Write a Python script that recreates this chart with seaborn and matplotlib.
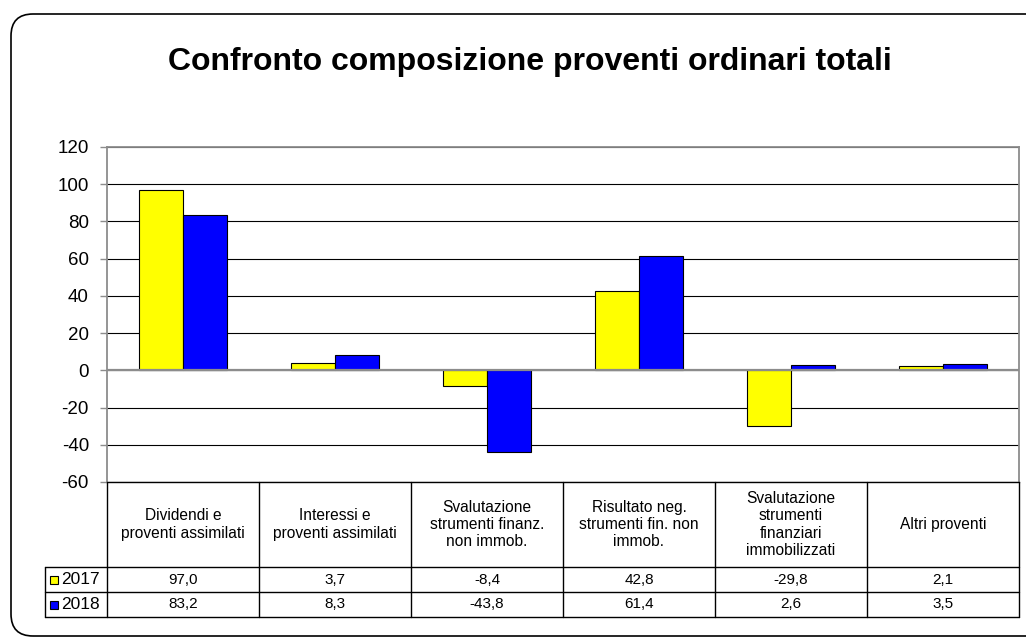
import pandas as pd
import numpy as np
import matplotlib
matplotlib.use("Agg")
import matplotlib.pyplot as plt
import matplotlib.transforms as mtransforms
from matplotlib.patches import FancyBboxPatch
import seaborn as sns

# dati
categorie = [
    "Dividendi e\nproventi assimilati",
    "Interessi e\nproventi assimilati",
    "Svalutazione\nstrumenti finanz.\nnon immob.",
    "Risultato neg.\nstrumenti fin. non\nimmob.",
    "Svalutazione\nstrumenti\nfinanziari\nimmobilizzati",
    "Altri proventi",
]
anni = ["2017", "2018"]
valori_2017 = [97.0, 3.7, -8.4, 42.8, -29.8, 2.1]
valori_2018 = [83.2, 8.3, -43.8, 61.4, 2.6, 3.5]
colori = {"2017": "#FFFF00", "2018": "#0000FF"}
yticks = [-60, -40, -20, 0, 20, 40, 60, 80, 100, 120]

df = pd.DataFrame({
    "categoria": categorie * 2,
    "anno": ["2017"] * len(categorie) + ["2018"] * len(categorie),
    "valore": valori_2017 + valori_2018,
})

sns.set_style("white")
plt.rcParams["font.family"] = ["Liberation Sans", "DejaVu Sans"]
plt.rcParams["text.color"] = "black"
plt.rcParams["ytick.labelcolor"] = "black"
plt.rcParams["axes.unicode_minus"] = False

W, H = 1026, 637
fig = plt.figure(figsize=(W / 100, H / 100), dpi=100)

# cornice arrotondata
cornice = FancyBboxPatch((11, 1), 1040, 622, boxstyle="round,pad=0,rounding_size=22",
                         transform=mtransforms.IdentityTransform(),
                         facecolor="none", edgecolor="black", linewidth=1.2)
fig.patches.append(cornice)

fig.text(0.516, 1 - 62 / H, "Confronto composizione proventi ordinari totali",
         ha="center", va="center", fontsize=23, fontweight="bold", color="black")

ax = fig.add_axes([107 / W, 1 - 482 / H, 912 / W, 335 / H])
sns.barplot(data=df, x="categoria", y="valore", hue="anno", order=categorie,
            hue_order=anni, palette=colori, width=0.58, edgecolor="black",
            linewidth=0.8, saturation=1, legend=False, ax=ax)

ax.set_xlim(-0.5, len(categorie) - 0.5)
ax.set_ylim(-60, 120)
ax.set_yticks(yticks)
ax.set_xticks([])
ax.set_xlabel("")
ax.set_ylabel("")
ax.set_axisbelow(True)
ax.grid(axis="y", color="black", linewidth=0.8)
ax.axhline(0, color="#8c8c8c", linewidth=1.6, zorder=5)
ax.tick_params(axis="y", which="both", left=True, direction="out", length=5,
               width=1, color="#8c8c8c", pad=8, labelsize=13.5, labelcolor="black")
for lato in ["top", "left", "right"]:
    ax.spines[lato].set_color("#8c8c8c")
    ax.spines[lato].set_linewidth(1.3)
ax.spines["bottom"].set_color("black")
ax.spines["bottom"].set_linewidth(1)

# tabella dati sotto il grafico
trans = mtransforms.blended_transform_factory(ax.transData, ax.transAxes)
x_sx = -0.5 + (45 - 107) / 152
y_h = (482 - 567) / 335
y_r1 = (482 - 592) / 335
y_r2 = (482 - 617) / 335
xr = len(categorie) - 0.5
kw = dict(color="black", linewidth=1, transform=trans, clip_on=False)

for i in range(len(categorie) + 1):
    ax.plot([i - 0.5, i - 0.5], [0, y_r2], **kw)
ax.plot([x_sx, x_sx], [y_h, y_r2], **kw)
for yy in [y_h, y_r1, y_r2]:
    ax.plot([x_sx, xr], [yy, yy], **kw)

fmt = lambda v: f"{v:.1f}".replace(".", ",")
for i, cat in enumerate(categorie):
    ax.text(i, y_h / 2, cat, ha="center", va="center", fontsize=11.2,
            linespacing=1.2, transform=trans)
    ax.text(i, (y_h + y_r1) / 2, fmt(valori_2017[i]), ha="center", va="center",
            fontsize=11, transform=trans)
    ax.text(i, (y_r1 + y_r2) / 2, fmt(valori_2018[i]), ha="center", va="center",
            fontsize=11, transform=trans)

for anno, y0, y1 in [("2017", y_h, y_r1), ("2018", y_r1, y_r2)]:
    yc = (y0 + y1) / 2
    ax.plot([x_sx + 0.056], [yc], marker="s", markersize=5.5, color=colori[anno],
            markeredgecolor="black", markeredgewidth=0.8, transform=trans,
            clip_on=False)
    ax.text(x_sx + 0.105, yc, anno, ha="left", va="center", fontsize=12.5,
            transform=trans)

fig.savefig("out.png", dpi=100)
